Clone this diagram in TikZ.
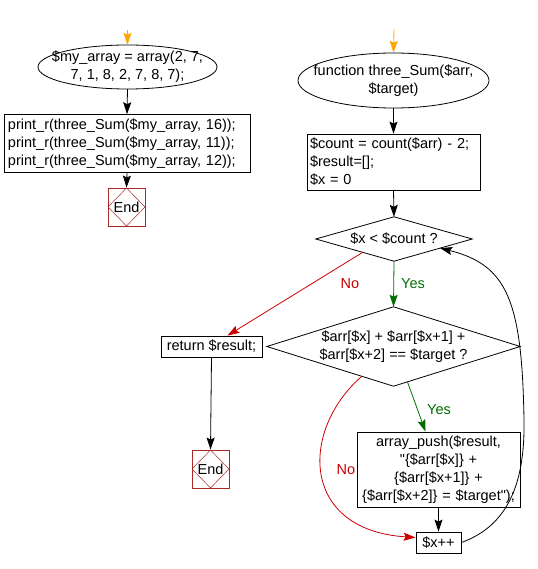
\documentclass[tikz,border=0pt]{standalone}
\usepackage{fontspec}
\setmainfont{Liberation Sans}[Ligatures=TeXOff]
\usetikzlibrary{arrows.meta,calc}
\definecolor{endred}{RGB}{170,40,40}
\definecolor{nored}{RGB}{204,0,0}
\definecolor{yesgreen}{RGB}{0,110,0}
\definecolor{startorange}{RGB}{255,165,0}
\begin{document}
\begin{tikzpicture}[x=1pt,y=-1pt,
  every node/.style={font=\fontsize{14.5}{18}\selectfont},
  txt/.style={inner sep=0pt, rectangle},
  boxx/.style={draw, rectangle, line width=0.8pt},
  endbox/.style={draw=endred, rectangle, line width=0.8pt, minimum width=37pt, minimum height=38pt, inner sep=0pt,
    path picture={\draw[endred, line width=0.5pt] (path picture bounding box.north) -- (path picture bounding box.east) -- (path picture bounding box.south) -- (path picture bounding box.west) -- cycle;}},
  arr/.style={line width=0.8pt, -{Stealth[length=12pt,width=8pt,inset=2pt]}},
  oarr/.style={arr, color=startorange},
  garr/.style={arr, color=yesgreen},
  rarr/.style={arr, color=nored}]
\useasboundingbox (0,0) rectangle (537,569);
% left column
\coordinate (s1) at (127.5,30);
\node[txt, minimum width=179pt, minimum height=44pt, align=center] (e1) at (127.5,67) {\$my\_array = array(2, 7,\\7, 1, 8, 2, 7, 8, 7);};
\draw[line width=0.8pt] (e1.center) ellipse [x radius=89.5, y radius=22];
\node[boxx, text width=238pt, inner sep=4pt, minimum height=55pt, align=left] (b1) at (127,143.5) {print\_r(three\_Sum(\$my\_array, 16));\\print\_r(three\_Sum(\$my\_array, 11));\\print\_r(three\_Sum(\$my\_array, 12));};
\node[endbox] (end1) at (126.5,207) {End};
\draw[oarr] (s1) -- (e1.north);
\draw[arr] (e1.south) -- (b1.north);
\draw[arr] (b1.south) -- (end1.north);
% right column
\coordinate (s2) at (394,29);
\node[txt, minimum width=191pt, minimum height=55pt, align=center] (e2) at (393.5,80.5) {function three\_Sum(\$arr,\\\$target)};
\draw[line width=0.8pt] (e2.center) ellipse [x radius=95.5, y radius=27.5];
\node[boxx, text width=167pt, inner sep=3pt, minimum height=56pt, align=left] (b2) at (393.5,162) {\$count = count(\$arr) - 2;\\\$result=[];\\\$x = 0};
\node[txt, minimum width=156pt, minimum height=44pt] (d1) at (394,239) {\$x < \$count ?};
\draw[line width=0.8pt] (d1.north) -- (d1.east) -- (d1.south) -- (d1.west) -- cycle;
\node[txt, minimum width=253pt, minimum height=79pt, align=center] (d2) at (393.5,346.5) {\$arr[\$x] + \$arr[\$x+1] +\\\$arr[\$x+2] == \$target ?};
\draw[line width=0.8pt] (d2.north) -- (d2.east) -- (d2.south) -- (d2.west) -- cycle;
\node[boxx, minimum width=101pt, minimum height=21pt, inner sep=0pt] (ret) at (211.5,346.5) {return \$result;};
\node[endbox] (end2) at (210.5,469) {End};
\node[boxx, text width=157pt, inner sep=3pt, minimum height=75pt, align=center] (b3) at (438.5,469.5) {array\_push(\$result,\\"\{\$arr[\$x]\} +\\\{\$arr[\$x+1]\} +\\\{\$arr[\$x+2]\} = \$target");};
\node[boxx, minimum width=45pt, minimum height=21pt, inner sep=0pt] (xpp) at (438.5,542.5) {\$x++};
\draw[oarr] (s2) -- (e2.north);
\draw[arr] (e2.south) -- (b2.north);
\draw[arr] (b2.south) -- (d1.north);
\draw[garr] (d1.south) -- (d2.north);
\node[text=yesgreen] (yes1) at (413,284) {Yes};
\draw[rarr] ($(d1.west)!0.6!(d1.south)$) -- ([xshift=16pt]ret.north);
\node[text=nored] (no1) at (350,284) {No};
\draw[arr] (ret.south) -- (end2.north);
\draw[garr] ($(d2.south)!0.11!(d2.east)$) -- ([xshift=-13pt]b3.north);
\node[text=yesgreen] (yes2) at (439,410) {Yes};
\draw[arr] (b3.south) -- (xpp.north);
\draw[rarr] ($(d2.west)!0.75!(d2.south)$) .. controls (300,430) and (300,530) .. ([yshift=5pt]xpp.west);
\node[text=nored] (no2) at (346,470) {No};
\draw[arr] (xpp.east) .. controls (510,525) and (525,480) .. (524,420) .. controls (522,300) and (507,265) .. ($(d1.south)!0.59!(d1.east)$);
\end{tikzpicture}
\end{document}
